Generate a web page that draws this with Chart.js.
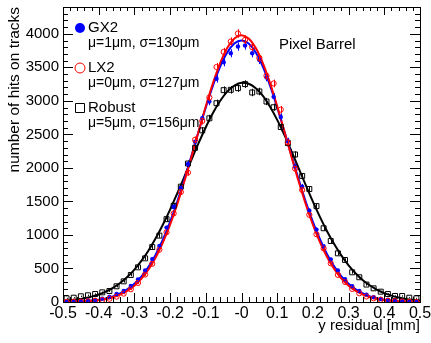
<!DOCTYPE html>
<html>
<head>
<meta charset="utf-8">
<script src="https://cdn.jsdelivr.net/npm/chart.js@4.4.0/dist/chart.umd.min.js"></script>
<style>
    html, body { margin: 0; padding: 0; background: #fff; }
    #wrap { width: 431px; height: 343px; }
</style>
</head>
<body>
<div id="wrap"><canvas id="residualChart" width="431" height="343"></canvas></div>
<script>
    // bin centres of the y residual histogram [mm]
    const binCenters = [
        -0.49, -0.47, -0.45, -0.43, -0.41, -0.39, -0.37, -0.35, -0.33, -0.31,
        -0.29, -0.27, -0.25, -0.23, -0.21, -0.19, -0.17, -0.15, -0.13, -0.11,
        -0.09, -0.07, -0.05, -0.03, -0.01, 0.01, 0.03, 0.05, 0.07, 0.09,
        0.11, 0.13, 0.15, 0.17, 0.19, 0.21, 0.23, 0.25, 0.27, 0.29,
        0.31, 0.33, 0.35, 0.37, 0.39, 0.41, 0.43, 0.45, 0.47, 0.49
    ];

    const gx2Hits = [
        6, 10, 14, 22, 30, 48, 75, 119, 165, 238,
        335, 470, 640, 835, 1110, 1420, 1700, 2060, 2390, 2740,
        2990, 3330, 3575, 3710, 3810, 3825, 3710, 3610, 3350, 3060,
        2760, 2400, 2020, 1720, 1360, 1080, 830, 635, 470, 340,
        235, 165, 110, 72, 46, 30, 20, 12, 8, 5
    ];

    const lx2Hits = [
        2, 4, 6, 10, 18, 30, 48, 80, 125, 190,
        285, 410, 570, 780, 1040, 1320, 1640, 1930, 2420, 2700,
        3050, 3505, 3730, 3885, 4005, 3910, 3800, 3640, 3375, 3260,
        2870, 2380, 1990, 1670, 1300, 1010, 800, 577, 405, 300,
        195, 130, 82, 55, 34, 20, 12, 7, 4, 2
    ];

    const robustHits = [
        55, 64, 85, 100, 119, 144, 164, 234, 308, 403,
        517, 651, 820, 990, 1235, 1435, 1720, 2065, 2300, 2560,
        2740, 2965, 3160, 3165, 3190, 3250, 3125, 3140, 2990, 2905,
        2610, 2370, 2200, 1880, 1685, 1430, 1100, 910, 726, 627,
        443, 369, 260, 204, 154, 119, 90, 90, 64, 55
    ];

    // fitted curves, read every 0.02 mm
    const fitX = [
        -0.50, -0.48, -0.46, -0.44, -0.42, -0.40, -0.38, -0.36, -0.34, -0.32,
        -0.30, -0.28, -0.26, -0.24, -0.22, -0.20, -0.18, -0.16, -0.14, -0.12,
        -0.10, -0.08, -0.06, -0.04, -0.02, 0.00, 0.02, 0.04, 0.06, 0.08,
        0.10, 0.12, 0.14, 0.16, 0.18, 0.20, 0.22, 0.24, 0.26, 0.28,
        0.30, 0.32, 0.34, 0.36, 0.38, 0.40, 0.42, 0.44, 0.46, 0.48, 0.50
    ];

    const gx2Fit = [
        2, 4, 7, 13, 21, 34, 54, 84, 128, 188,
        272, 383, 528, 710, 932, 1194, 1495, 1829, 2184, 2547,
        2901, 3227, 3506, 3720, 3854, 3900, 3854, 3720, 3506, 3227,
        2901, 2547, 2184, 1829, 1495, 1194, 932, 710, 528, 383,
        272, 188, 128, 84, 54, 34, 21, 13, 7, 4, 2
    ];

    const lx2Fit = [
        2, 3, 6, 10, 17, 28, 45, 72, 111, 166,
        244, 350, 490, 668, 888, 1152, 1458, 1800, 2168, 2547,
        2919, 3264, 3560, 3787, 3931, 3980, 3931, 3787, 3560, 3264,
        2919, 2547, 2168, 1800, 1458, 1152, 888, 668, 490, 350,
        244, 166, 111, 72, 45, 28, 17, 10, 6, 3, 2
    ];

    const robustFit = [
        17, 26, 38, 56, 80, 112, 156, 212, 284, 373,
        484, 616, 773, 953, 1156, 1379, 1619, 1869, 2123, 2372,
        2607, 2819, 2998, 3137, 3228, 3269, 3255, 3189, 3073, 2913,
        2717, 2492, 2249, 1996, 1743, 1497, 1265, 1051, 860, 692,
        547, 426, 326, 246, 182, 133, 95, 67, 46, 32, 21
    ];

    const xTickValues = [-0.5, -0.4, -0.3, -0.2, -0.1, 0, 0.1, 0.2, 0.3, 0.4, 0.5];
    const xTickLabels = ['-0.5', '-0.4', '-0.3', '-0.2', '-0.1', '-0', '0.1', '0.2', '0.3', '0.4', '0.5'];
    const yTickValues = [0, 500, 1000, 1500, 2000, 2500, 3000, 3500, 4000];
    const yTickLabels = ['0', '500', '1000', '1500', '2000', '2500', '3000', '3500', '4000'];

    const legendEntries = [
        { name: 'GX2', fitText: 'μ=1μm, σ=130μm', color: '#0000ff', marker: 'dot' },
        { name: 'LX2', fitText: 'μ=0μm, σ=127μm', color: '#ff0000', marker: 'ring' },
        { name: 'Robust', fitText: 'μ=5μm, σ=156μm', color: '#000000', marker: 'square' }
    ];

    const FONT = '"Liberation Sans", Arial, Helvetica, sans-serif';
    Chart.defaults.font.family = FONT;
    Chart.defaults.color = '#000';

    function toPoints(xs, ys) {
        return xs.map((x, i) => ({ x: x, y: ys[i] }));
    }

    // vertical error bars (sqrt N) on the histogram points
    const errorBarPlugin = {
        id: 'errorBars',
        afterDatasetsDraw(chart) {
            const ctx = chart.ctx;
            const yScale = chart.scales.y;
            chart.data.datasets.forEach((ds, i) => {
                if (!ds.errorBars) return;
                const meta = chart.getDatasetMeta(i);
                ctx.save();
                ctx.strokeStyle = ds.borderColor;
                ctx.lineWidth = 1;
                meta.data.forEach((pt, j) => {
                    const v = ds.data[j].y;
                    const err = Math.sqrt(v);
                    const px = Math.round(pt.x) + 0.5;
                    ctx.beginPath();
                    ctx.moveTo(px, yScale.getPixelForValue(v + err));
                    ctx.lineTo(px, yScale.getPixelForValue(v - err));
                    ctx.stroke();
                });
                ctx.restore();
            });
        }
    };

    // ROOT style frame with inward ticks on all four sides
    const framePlugin = {
        id: 'rootFrame',
        afterDatasetsDraw(chart) {
            const ctx = chart.ctx;
            const area = chart.chartArea;
            const xs = chart.scales.x;
            const ys = chart.scales.y;
            ctx.save();
            ctx.strokeStyle = '#000';
            ctx.lineWidth = 1;
            ctx.strokeRect(Math.round(area.left) + 0.5, Math.round(area.top) + 0.5,
                Math.round(area.right - area.left), Math.round(area.bottom - area.top));
            ctx.beginPath();
            for (let k = 0; k <= 50; k++) {
                const v = -0.5 + k * 0.02;
                const px = Math.round(xs.getPixelForValue(v)) + 0.5;
                const len = k % 5 === 0 ? 9 : 5;
                ctx.moveTo(px, area.bottom);
                ctx.lineTo(px, area.bottom - len);
                ctx.moveTo(px, area.top);
                ctx.lineTo(px, area.top + len - 1);
            }
            for (let v = 0; v <= 4400; v += 100) {
                const py = Math.round(ys.getPixelForValue(v)) + 0.5;
                const len = v % 500 === 0 ? 10 : 5;
                ctx.moveTo(area.left, py);
                ctx.lineTo(area.left + len, py);
                ctx.moveTo(area.right, py);
                ctx.lineTo(area.right - len, py);
            }
            ctx.stroke();
            ctx.restore();
        }
    };

    const legendPlugin = {
        id: 'fitLegend',
        afterDraw(chart) {
            const ctx = chart.ctx;
            ctx.save();
            ctx.textBaseline = 'middle';
            ctx.textAlign = 'left';
            legendEntries.forEach((entry, i) => {
                const rowY = 28 + i * 40;
                ctx.strokeStyle = entry.color;
                ctx.fillStyle = entry.color;
                ctx.lineWidth = 1;
                ctx.beginPath();
                if (entry.marker === 'dot') {
                    ctx.arc(80, rowY, 5, 0, Math.PI * 2);
                    ctx.fill();
                } else if (entry.marker === 'ring') {
                    ctx.arc(80, rowY, 5, 0, Math.PI * 2);
                    ctx.stroke();
                } else {
                    ctx.rect(75.5, rowY - 4.5, 9, 9);
                    ctx.stroke();
                }
                ctx.fillStyle = '#000';
                ctx.font = '15px ' + FONT;
                ctx.fillText(entry.name, 88, rowY);
                ctx.font = '14px ' + FONT;
                ctx.fillText(entry.fitText, 88, rowY + 15);
            });
            ctx.font = '15px ' + FONT;
            ctx.fillText('Pixel Barrel', 279, 45);
            ctx.restore();
        }
    };

    const ctx = document.getElementById('residualChart').getContext('2d');
    new Chart(ctx, {
        type: 'scatter',
        data: {
            datasets: [
                {
                    label: 'Robust fit',
                    data: toPoints(fitX, robustFit),
                    showLine: true,
                    borderColor: '#000000',
                    borderWidth: 2,
                    pointRadius: 0,
                    cubicInterpolationMode: 'monotone',
                    order: 6
                },
                {
                    label: 'GX2 fit',
                    data: toPoints(fitX, gx2Fit),
                    showLine: true,
                    borderColor: '#0000ff',
                    borderWidth: 2,
                    pointRadius: 0,
                    cubicInterpolationMode: 'monotone',
                    order: 5
                },
                {
                    label: 'LX2 fit',
                    data: toPoints(fitX, lx2Fit),
                    showLine: true,
                    borderColor: '#ff0000',
                    borderWidth: 2,
                    pointRadius: 0,
                    cubicInterpolationMode: 'monotone',
                    order: 4
                },
                {
                    label: 'Robust',
                    data: toPoints(binCenters, robustHits),
                    pointStyle: 'rect',
                    pointRadius: 3.5,
                    borderColor: '#000000',
                    backgroundColor: 'rgba(0,0,0,0)',
                    borderWidth: 1,
                    errorBars: true,
                    order: 3
                },
                {
                    label: 'GX2',
                    data: toPoints(binCenters, gx2Hits),
                    pointStyle: 'circle',
                    pointRadius: 2.2,
                    borderColor: '#0000ff',
                    backgroundColor: '#0000ff',
                    borderWidth: 0,
                    errorBars: true,
                    order: 2
                },
                {
                    label: 'LX2',
                    data: toPoints(binCenters, lx2Hits),
                    pointStyle: 'circle',
                    pointRadius: 2.6,
                    borderColor: '#ff0000',
                    backgroundColor: 'rgba(0,0,0,0)',
                    borderWidth: 1,
                    errorBars: true,
                    order: 1
                }
            ]
        },
        options: {
            responsive: false,
            animation: false,
            devicePixelRatio: 1,
            layout: { padding: { top: 7, right: 11, bottom: 0, left: 0 } },
            plugins: {
                legend: { display: false },
                tooltip: { enabled: false }
            },
            scales: {
                x: {
                    type: 'linear',
                    min: -0.5,
                    max: 0.5,
                    grid: { display: false, drawTicks: false },
                    border: { display: false },
                    afterBuildTicks: (scale) => {
                        scale.ticks = xTickValues.map(v => ({ value: v }));
                    },
                    afterFit: (scale) => {
                        scale.height = 41;
                        scale.paddingLeft = 0;
                        scale.paddingRight = 0;
                    },
                    ticks: {
                        autoSkip: false,
                        maxRotation: 0,
                        padding: 2,
                        font: { size: 16 },
                        callback: (value, index) => xTickLabels[index]
                    },
                    title: {
                        display: true,
                        text: 'y residual [mm]',
                        align: 'end',
                        font: { size: 15 },
                        padding: { top: 0, bottom: 8 }
                    }
                },
                y: {
                    type: 'linear',
                    min: 0,
                    max: 4400,
                    grid: { display: false, drawTicks: false },
                    border: { display: false },
                    afterBuildTicks: (scale) => {
                        scale.ticks = yTickValues.map(v => ({ value: v }));
                    },
                    afterFit: (scale) => {
                        scale.width = 63;
                        scale.paddingTop = 0;
                        scale.paddingBottom = 0;
                    },
                    ticks: {
                        autoSkip: false,
                        padding: 4,
                        font: { size: 15 },
                        callback: (value, index) => yTickLabels[index]
                    },
                    title: {
                        display: true,
                        text: 'number of hits on tracks',
                        align: 'end',
                        font: { size: 15.5 },
                        padding: { top: 5, bottom: 0 }
                    }
                }
            }
        },
        plugins: [errorBarPlugin, framePlugin, legendPlugin]
    });
</script>
</body>
</html>
